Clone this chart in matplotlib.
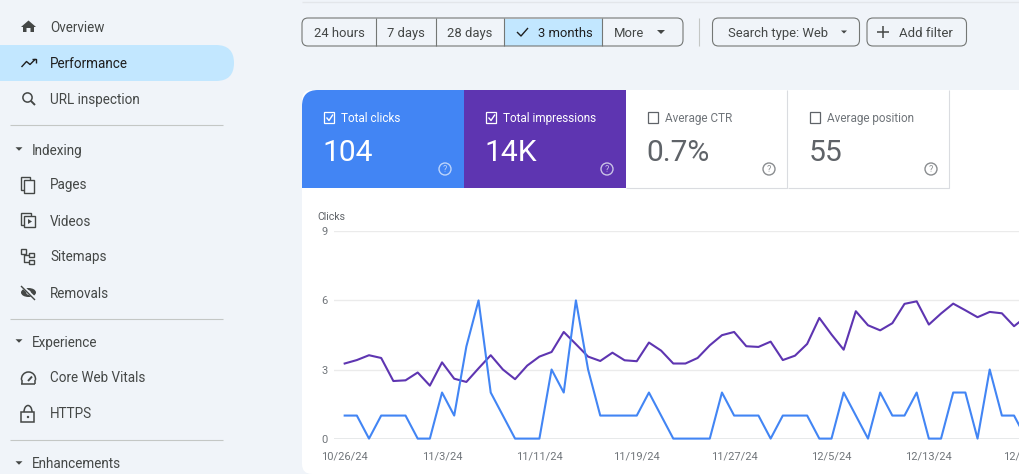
import matplotlib.pyplot as plt
from matplotlib.patches import Rectangle, FancyBboxPatch, Circle, Polygon, Ellipse, Arc

plt.rcParams['font.family'] = ['Roboto', 'DejaVu Sans']

# chart data, one value per day from 10/26/24
clicks = [1, 1, 0, 1, 1, 1, 0, 0, 2, 1, 4, 6, 2, 1, 0, 0, 0, 3, 2, 6, 3, 1, 1, 1, 1, 2, 1, 0, 0, 0,
          0, 2, 1, 1, 1, 0, 1, 1, 1, 0, 0, 2, 1, 0, 2, 1, 1, 2, 0, 0, 2, 2, 0, 3, 1, 1, 0]
impressions = [3.26, 3.41, 3.62, 3.50, 2.50, 2.53, 2.87, 2.30, 3.31, 2.60, 2.46, 3.05, 3.62, 3.00,
               2.58, 3.17, 3.56, 3.76, 4.63, 4.10, 3.56, 3.37, 3.73, 3.40, 3.36, 4.17, 3.82, 3.26,
               3.26, 3.50, 4.05, 4.49, 4.63, 4.01, 3.98, 4.21, 3.41, 3.60, 4.11, 5.24, 4.52, 3.86,
               5.53, 4.92, 4.70, 5.01, 5.85, 5.96, 4.95, 5.43, 5.86, 5.57, 5.27, 5.50, 5.44, 4.88, 5.30]
days = list(range(len(clicks)))
date_ticks = [0, 8, 16, 24, 32, 40, 48, 56]
date_labels = ['10/26/24', '11/3/24', '11/11/24', '11/19/24', '11/27/24', '12/5/24', '12/13/24', '12/21/24']
y_ticks = [0, 3, 6, 9]

# interface text
nav_items = [('Overview', 26), ('Performance', 62), ('URL inspection', 98), ('Pages', 184), ('Videos', 220),
             ('Sitemaps', 256), ('Removals', 292), ('Core Web Vitals', 377), ('HTTPS', 413)]
nav_sections = [('Indexing', 149), ('Experience', 341), ('Enhancements', 463)]
nav_dividers = [124, 318, 439]
range_buttons = [('24 hours', 339), ('7 days', 406), ('28 days', 470), ('3 months', 565), ('More', 629)]
range_edges = [376, 436.5, 504, 602.5]
cards = [('Total clicks', '104', 302, '#4285f4', 'white', True),
         ('Total impressions', '14K', 464, '#5e35b1', 'white', True),
         ('Average CTR', '0.7%', 626, 'white', '#5f6368', False),
         ('Average position', '55', 788, 'white', '#5f6368', False)]

BG = '#f0f4f9'
DARK = '#444746'
W, H = 1019, 474

fig = plt.figure(figsize=(W / 100, H / 100), dpi=100, facecolor=BG)

# pixel coordinate layer for the page around the chart
ui = fig.add_axes([0, 0, 1, 1], zorder=0)
ui.set_xlim(0, W)
ui.set_ylim(H, 0)
ui.axis('off')


def pill(x0, y0, x1, y1, r, fc, ec='none', lw=1.0, z=2):
    ui.add_patch(FancyBboxPatch((x0 + r, y0 + r), x1 - x0 - 2 * r, y1 - y0 - 2 * r,
                                boxstyle='round,pad=%f,rounding_size=%f' % (r, r),
                                fc=fc, ec=ec, lw=lw, zorder=z))


def label(x, y, s, size, color=DARK, ha='left', weight='normal', z=6):
    ui.text(x, y, s, fontsize=size * 0.72, color=color, ha=ha, va='center_baseline', weight=weight, zorder=z)


def stroke(xs, ys, color=DARK, lw=1.2, z=6):
    ui.plot(xs, ys, color=color, lw=lw, zorder=z, solid_capstyle='butt', clip_on=False)


def box(x, y, w, h, ec=DARK, fc='none', lw=1.1, z=6):
    ui.add_patch(Rectangle((x, y), w, h, fc=fc, ec=ec, lw=lw, zorder=z))


def caret(x, y, color=DARK, s=4):
    ui.add_patch(Polygon([(x - s, y - s / 2), (x + s, y - s / 2), (x, y + s / 2)], fc=color, ec='none', zorder=6))


# sidebar
pill(-30, 45, 234, 81, 18, '#c2e7ff')
for text, y in nav_items:
    label(50, y, text, 13.5, color='#1f1f1f' if text == 'Performance' else DARK)
for text, y in nav_sections:
    label(32, y, text, 13.5)
    caret(19, y, s=3.5)
for y in nav_dividers:
    stroke([10, 223], [y + 0.5, y + 0.5], color='#c4c7c5', lw=0.8)

# sidebar icons
ui.add_patch(Polygon([(21, 27), (28.5, 20.5), (36, 27), (34, 27), (34, 32), (30.5, 32), (30.5, 28), (26.5, 28),
                      (26.5, 32), (23, 32), (23, 27)], fc=DARK, ec='none', zorder=6))
stroke([21.5, 26.5, 30, 35.5], [67, 61.5, 64.5, 59], color='#1f1f1f', lw=1.0)
stroke([32, 36, 36], [59, 59, 63], color='#1f1f1f', lw=1.0)
ui.add_patch(Circle((27.5, 97.5), 4.6, fc='none', ec=DARK, lw=1.1, zorder=6))
stroke([31, 35], [101, 105], lw=1.4)
box(21, 177, 9, 13, lw=1.0)
box(24, 180, 10, 13, fc=BG, lw=1.0)
box(21, 213, 10, 12, lw=1.0)
box(24, 216, 11, 11, fc=BG, lw=1.0)
ui.add_patch(Polygon([(28, 219), (32, 221.5), (28, 224)], fc=DARK, ec='none', zorder=7))
box(21.5, 249, 5, 5, lw=1.0)
box(29.5, 253, 5, 4, lw=1.0)
box(29.5, 260, 5, 4, lw=1.0)
stroke([24, 24, 29.5], [254, 262, 262], lw=1.0)
stroke([24, 29.5], [255, 255], lw=1.0)
ui.add_patch(Ellipse((28.5, 292.5), 15, 9, fc=DARK, ec='none', zorder=6))
ui.add_patch(Circle((28.5, 292.5), 2.2, fc=BG, ec='none', zorder=7))
stroke([21.5, 35.5], [285.5, 299], color=BG, lw=2.2, z=8)
stroke([21, 35], [286, 300], lw=1.0, z=9)
ui.add_patch(Arc((28.5, 379), 14, 14, theta1=170, theta2=370, color=DARK, lw=1.1, zorder=6))
stroke([21.5, 35.5], [384, 384], lw=1.1)
stroke([21.6, 21.6], [380, 384], lw=1.1)
stroke([35.4, 35.4], [380, 384], lw=1.1)
stroke([28, 32], [381, 376.5], lw=1.4)
box(21.5, 412, 13, 10, lw=1.1)
ui.add_patch(Arc((28, 412), 8, 13, theta1=180, theta2=360, color=DARK, lw=1.1, zorder=6))
ui.add_patch(Circle((28, 417), 1.2, fc=DARK, ec='none', zorder=7))

# toolbar
stroke([302, W], [2, 2], color='#e3e6ea', lw=1.0)
pill(302, 18, 683, 46, 6, 'none', ec='#747775', lw=0.8, z=5)
ui.add_patch(Rectangle((504, 18.5), 98.5, 27, fc='#c2e7ff', ec='none', zorder=3))
for x in range_edges:
    stroke([x, x], [18, 46], color='#747775', lw=0.8)
for text, x in range_buttons:
    label(x, 32, text, 13, ha='center', color='#1f1f1f' if text == '3 months' else DARK)
stroke([517, 521, 528], [32, 36, 28], color='#1f1f1f', lw=1.0)
caret(661, 32, s=4)
stroke([699, 699], [18, 46], color='#c4c7c5', lw=0.8)
pill(712.5, 18, 859.5, 46, 6, 'none', ec='#747775', lw=0.8, z=5)
label(778, 32, 'Search type: Web', 13, ha='center')
caret(844, 32, s=3)
pill(867, 18, 966.5, 46, 6, 'none', ec='#747775', lw=0.8, z=5)
stroke([877, 889], [32, 32], lw=1.1)
stroke([883, 883], [26, 38], lw=1.1)
label(925.5, 32, 'Add filter', 13.2, ha='center')

# white panel with the metric cards
pill(302, 90, W + 40, 474, 10, 'white', z=1)
for name, value, x, fc, fg, checked in cards:
    if fc != 'white':
        if x == 302:
            pill(302, 90, 340, 140, 16, fc)
            ui.add_patch(Rectangle((318, 90), 146, 97.5, fc=fc, ec='none', zorder=2))
            ui.add_patch(Rectangle((302, 106), 162, 81.5, fc=fc, ec='none', zorder=2))
        else:
            ui.add_patch(Rectangle((x, 90), 162, 97.5, fc=fc, ec='none', zorder=2))
    else:
        stroke([x, x + 161.5, x + 161.5], [187.5, 187.5, 90], color='#dadce0', lw=0.8, z=2)
    box(x + 22.5, 112, 10, 11, ec=fg, lw=0.9)
    if checked:
        stroke([x + 24.5, x + 27, x + 31], [117.5, 120.5, 114.5], color=fg, lw=1.0)
    label(x + 39.5, 117, name, 11.8, color=fg if checked else '#70757a')
    label(x + 20.5, 150, value, 30, color=fg)
    q_color = '#c9c2e6' if x == 464 else ('#bcd4fb' if x == 302 else '#8a8d90')
    ui.add_patch(Circle((x + 143, 169), 6, fc='none', ec=q_color, lw=1.0, zorder=6))
    ui.text(x + 143, 169, '?', fontsize=6.5, color=q_color, ha='center', va='center', zorder=6)

label(317, 216, 'Clicks', 10.5, color='#5f6368')

# chart, the axes run past the right edge of the picture like the cut off page
left, right, top, bottom = 334, W + 20, 231.3, 438.6
ax = fig.add_axes([left / W, 1 - bottom / H, (right - left) / W, (bottom - top) / H], zorder=1)
ax.patch.set_visible(False)
for side in ['top', 'right', 'left', 'bottom']:
    ax.spines[side].set_visible(False)
ax.set_yticks(y_ticks)
ax.set_xticks(date_ticks)
ax.set_xticklabels(date_labels)
ax.set_xlim(-0.877, 57.05)
ax.set_ylim(0, 9)
ax.tick_params(axis='both', length=0, labelsize=8, labelcolor='#70757a')
ax.tick_params(axis='y', pad=4.5)
ax.tick_params(axis='x', pad=9.5)
ax.grid(axis='y', color='#ebebeb', lw=1.0)
ax.axhline(0, color='#9aa0a6', lw=1.0, zorder=2)
ax.set_axisbelow(True)
ax.plot(days, impressions, color='#5e35b1', lw=1.5, zorder=3, clip_on=False)
ax.plot(days, clicks, color='#4285f4', lw=1.5, zorder=4, clip_on=False)

fig.savefig('out.png', dpi=100, facecolor=BG)
